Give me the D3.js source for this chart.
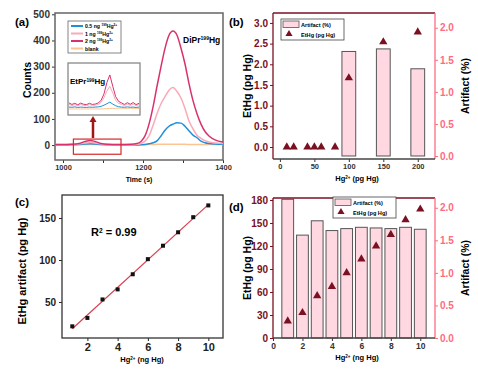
<!DOCTYPE html>
<html>
<head>
<meta charset="utf-8">
<script src="https://cdn.jsdelivr.net/npm/d3@7"></script>
<style>
body{margin:0;background:#fff}
svg{font-family:Arial,"Liberation Sans",sans-serif;font-weight:bold}
</style>
</head>
<body>
<svg width="478" height="371"></svg>
<script>
// (a) chromatograms
let aTime  = [980,1000,1020,1040,1055,1068,1080,1095,1110,1140,1170,1185,1195,1205,1215,1225,1235,1245,1255,1265,1275,1285,1295,1305,1315,1325,1335,1345,1355,1365,1380,1400]
let a2ng   = [2,2,3,6,14,18,14,6,3,2,3,6,14,35,80,145,225,300,370,420,436,420,370,310,235,170,120,80,52,35,20,12]
let a1ng   = [1,1,2,4,8,10,8,4,2,1,1,3,6,15,35,75,120,158,185,210,220,205,180,140,92,62,38,26,17,12,8,6]
let a05ng  = [0,0,1,2,4,5,4,2,1,0,0,0,1,2,5,9,16,35,57,72,80,85,84,72,55,38,28,15,9,6,4,3]
let aBlank = [2,2,2,2,2,2,3,2,2,2,2,2,2,2,2,2,3,3,3,3,3,3,3,3,2,2,2,2,2,2,2,2]

// inset (EtPr199Hg region)
let iTime  = [1000,1005,1010,1015,1020,1025,1030,1035,1040,1045,1050,1055,1060,1065,1070,1075,1080,1085,1090,1095,1100,1105,1110,1115,1120]
let i2ng   = [3.2,2.4,3.0,2.2,3.1,2.5,2.3,3.0,2.4,2.6,3.2,4.5,8,14,18,12,6.5,4,3.2,2.4,3.3,2.5,3.4,2.3,3.0]
let i1ng   = [2.4,1.8,2.3,1.7,2.4,1.9,1.8,2.3,1.9,2.0,2.4,3.5,6,9.5,12,8.5,4.5,3,2.4,1.8,2.5,1.9,2.6,1.8,2.3]
let i05ng  = [1.0,0.9,1.1,0.8,1.0,0.9,0.8,1.0,0.9,1.0,1.1,1.4,2.0,2.8,3.6,2.6,1.7,1.2,1.0,0.9,1.1,0.9,1.0,0.8,1.0]
let iBlank = [0,0,0,0,0,0,0,0,0,0,0,0,0.1,0.2,0.3,0.3,0.3,0.4,0.4,0.3,0.3,0.4,0.3,0.3,0.3]

// (b) low level Hg2+
let bHg       = [10,20,40,50,60,80,100,150,200]
let bEtHg     = [0,0,0,0,0,0,1.67,2.54,2.78]
let bArtifact = [0,0,0,0,0,0,1.63,1.67,1.36]

// (c) calibration
let cHg   = [1,2,3,4,5,6,7,8,9,10]
let cEtHg = [21,31,53,65,83,101,117,133,151,165]

// (d) high level Hg2+
let dHg       = [1,2,3,4,5,6,7,8,9,10]
let dEtHg     = [22,33,55,67,85,103,120,135,154,168]
let dArtifact = [2.13,1.58,1.80,1.65,1.68,1.70,1.69,1.68,1.70,1.67]

let svg = d3.select('svg')
let darkRed = '#7a1020'
let pinkAx = '#ff6b80'
let barFill = '#ffd8e1'

let rich = (g, x, y, parts, size, anchor, rot) => {
  let t = g.append('text').attr('font-size', size).attr('text-anchor', anchor || 'start')
  if (rot) t.attr('transform', 'translate(' + x + ',' + y + ') rotate(' + rot + ')')
  else t.attr('x', x).attr('y', y)
  parts.forEach(p => {
    let ts = t.append('tspan').text(p[0])
    if (p[1]) ts.attr('font-size', size * 0.6).attr('baseline-shift', 'super')
  })
  return t
}

let styleAxis = (g, color, size) => {
  g.select('.domain').remove()
  g.selectAll('line').attr('stroke', color).attr('stroke-width', 1)
  g.selectAll('text').attr('fill', color).attr('font-size', size).attr('font-weight', 'bold')
}

// ---------- (a)
let ax = d3.scaleLinear().domain([980, 1400]).range([55, 223])
let ay = d3.scaleLinear().domain([-57, 505]).range([160, 13])
let ga = svg.append('g')

let gax = ga.append('g').attr('transform', 'translate(0,160)')
  .call(d3.axisBottom(ax).tickValues([1000, 1100, 1200, 1300, 1400]).tickSize(3).tickPadding(2)
    .tickFormat(d => d % 200 == 0 ? d : ''))
styleAxis(gax, '#333', 7.5)
let gay = ga.append('g').attr('transform', 'translate(55,0)')
  .call(d3.axisLeft(ay).tickValues([0, 100, 200, 300, 400, 500]).tickSize(3).tickPadding(2))
styleAxis(gay, '#333', 10)
ga.append('rect').attr('x', 55).attr('y', 13).attr('width', 168).attr('height', 147)
  .attr('fill', 'none').attr('stroke', '#666').attr('stroke-width', 1.5)

let aSeries = [
  {v: aBlank, c: '#fcc58f'},
  {v: a05ng, c: '#1f8fdc'},
  {v: a1ng, c: '#f9aab8'},
  {v: a2ng, c: '#d8326e'}
]
let aLine = d3.line().x((d, i) => ax(aTime[i])).y(d => ay(d)).curve(d3.curveMonotoneX)
aSeries.forEach(s => {
  ga.append('path').attr('d', aLine(s.v)).attr('fill', 'none').attr('stroke', s.c).attr('stroke-width', 1.5)
})

rich(ga, 183, 43, [['DiPr'], ['199', 1], ['Hg']], 8.5)

// red box + arrow
ga.append('rect').attr('x', ax(1026)).attr('y', ay(23)).attr('width', ax(1145) - ax(1026)).attr('height', ay(-35) - ay(23))
  .attr('fill', 'none').attr('stroke', '#d42a2a').attr('stroke-width', 1.2)
let arX = ax(1075)
ga.append('line').attr('x1', arX).attr('x2', arX).attr('y1', 138).attr('y2', 121)
  .attr('stroke', '#a01515').attr('stroke-width', 2.5)
ga.append('path').attr('d', 'M' + (arX - 3.5) + ',122L' + arX + ',116L' + (arX + 3.5) + ',122Z').attr('fill', '#a01515')

// inset
let ix = d3.scaleLinear().domain([1000, 1120]).range([69, 139])
let iy = d3.scaleLinear().domain([-1.6, 20.6]).range([112, 70])
ga.append('rect').attr('x', 68).attr('y', 63).attr('width', 72).attr('height', 52)
  .attr('fill', '#fff').attr('stroke', '#888').attr('stroke-width', 1.3)
let iLine = d3.line().x((d, i) => ix(iTime[i])).y(d => iy(d))
;[{v: iBlank, c: '#fcc58f'}, {v: i05ng, c: '#1f8fdc'}, {v: i1ng, c: '#f9aab8'}, {v: i2ng, c: '#d8326e'}].forEach(s => {
  ga.append('path').attr('d', iLine(s.v)).attr('fill', 'none').attr('stroke', s.c).attr('stroke-width', 1)
})
rich(ga, 70, 84, [['EtPr'], ['199', 1], ['Hg']], 8)

// legend (a)
let legA = [
  {c: '#1f8fdc', p: [['0.5 ng '], ['199', 1], ['Hg'], ['2+', 1]]},
  {c: '#f9aab8', p: [['1 ng '], ['199', 1], ['Hg'], ['2+', 1]]},
  {c: '#d8326e', p: [['2 ng '], ['199', 1], ['Hg'], ['2+', 1]]},
  {c: '#fcc58f', p: [['blank']]}
]
ga.append('rect').attr('x', 68).attr('y', 21).attr('width', 53).attr('height', 32)
  .attr('fill', '#fff').attr('stroke', '#666').attr('stroke-width', 0.8)
legA.forEach((e, i) => {
  let yy = 26 + i * 7.5
  ga.append('line').attr('x1', 71).attr('x2', 83).attr('y1', yy).attr('y2', yy).attr('stroke', e.c).attr('stroke-width', 2)
  rich(ga, 85, yy + 2, e.p, 5.2)
})

ga.append('text').attr('x', 15).attr('y', 26).attr('font-size', 11.5).text('(a)')
ga.append('text').attr('transform', 'translate(31,80) rotate(-90)').attr('text-anchor', 'middle').attr('font-size', 10.5).text('Counts')
ga.append('text').attr('x', 139).attr('y', 182).attr('text-anchor', 'middle').attr('font-size', 7).text('Time (s)')

// ---------- dual axis bar + triangle panels
let dualPanel = (o) => {
  let g = svg.append('g')
  let x = d3.scaleLinear().domain(o.xd).range([273, 435])
  let yL = d3.scaleLinear().domain(o.yLd).range([o.bottom, o.top])
  let yR = d3.scaleLinear().domain(o.yRd).range([o.bottom, o.top])

  let gx = g.append('g').attr('transform', 'translate(0,' + o.bottom + ')')
    .call(d3.axisBottom(x).tickValues(o.xt).tickSize(3).tickPadding(2))
  styleAxis(gx, '#333', o.xs)
  let gl = g.append('g').attr('transform', 'translate(273,0)')
    .call(d3.axisLeft(yL).tickValues(o.yLt).tickSize(3).tickPadding(2).tickFormat(o.yLf))
  styleAxis(gl, darkRed, 10)
  let gr = g.append('g').attr('transform', 'translate(435,0)')
    .call(d3.axisRight(yR).tickValues(o.yRt).tickSize(3).tickPadding(2).tickFormat(d3.format('.1f')))
  styleAxis(gr, pinkAx, 10)

  let bars = o.xv.map((v, i) => ({x: v, a: o.art[i]})).filter(d => d.a > 0)
  g.selectAll('.bar').data(bars).enter().append('rect').attr('class', 'bar')
    .attr('x', d => x(d.x - o.bw / 2)).attr('width', d => x(d.x + o.bw / 2) - x(d.x - o.bw / 2))
    .attr('y', d => yR(d.a)).attr('height', d => yR(0) - yR(d.a))
    .attr('fill', barFill).attr('stroke', '#555').attr('stroke-width', 1)

  g.selectAll('.tri').data(o.xv).enter().append('path').attr('class', 'tri')
    .attr('d', d3.symbol(d3.symbolTriangle, 30))
    .attr('transform', (d, i) => 'translate(' + x(d) + ',' + yL(o.et[i]) + ')')
    .attr('fill', darkRed)

  // frame
  g.append('line').attr('x1', 273).attr('x2', 435).attr('y1', o.top).attr('y2', o.top).attr('stroke', darkRed).attr('stroke-width', 1.3)
  g.append('line').attr('x1', 273).attr('x2', 273).attr('y1', o.top).attr('y2', o.bottom).attr('stroke', darkRed).attr('stroke-width', 1.3)
  g.append('line').attr('x1', 435).attr('x2', 435).attr('y1', o.top).attr('y2', o.bottom).attr('stroke', pinkAx).attr('stroke-width', 1.3)
  g.append('line').attr('x1', 273).attr('x2', 435).attr('y1', o.bottom).attr('y2', o.bottom).attr('stroke', '#444').attr('stroke-width', 1.3)

  // legend
  let lx = o.leg[0], ly = o.leg[1]
  g.append('rect').attr('x', lx).attr('y', ly).attr('width', 63).attr('height', 21)
    .attr('fill', '#fff').attr('stroke', '#444').attr('stroke-width', 0.8)
  g.append('rect').attr('x', lx + 2).attr('y', ly + 2).attr('width', 16).attr('height', 6.5)
    .attr('fill', barFill).attr('stroke', '#555').attr('stroke-width', 0.8)
  g.append('text').attr('x', lx + 20).attr('y', ly + 7.5).attr('font-size', 5.6).text('Artifact (%)')
  g.append('path').attr('d', d3.symbol(d3.symbolTriangle, 22)).attr('transform', 'translate(' + (lx + 8) + ',' + (ly + 15) + ')').attr('fill', darkRed)
  g.append('text').attr('x', lx + 20).attr('y', ly + 17.5).attr('font-size', 5.6).text('EtHg (pg Hg)')

  let mid = (o.top + o.bottom) / 2
  g.append('text').attr('transform', 'translate(251,' + mid + ') rotate(-90)').attr('text-anchor', 'middle').attr('font-size', 10.5).text('EtHg (pg Hg)')
  g.append('text').attr('transform', 'translate(469,' + mid + ') rotate(-90)').attr('text-anchor', 'middle').attr('font-size', 10.5).text('Artifact (%)')
  rich(g, 357, o.bottom + 22, [['Hg'], ['2+', 1], [o.xunit]], 7.5, 'middle')
  g.append('text').attr('x', 229).attr('y', o.top + 13).attr('font-size', 11.5).text(o.label)
}

dualPanel({
  xd: [-10, 225], yLd: [-0.29, 3.24], yRd: [-0.047, 2.23], top: 13, bottom: 159,
  xt: [0, 50, 100, 150, 200], xs: 7.5,
  yLt: [0, 0.5, 1, 1.5, 2, 2.5, 3], yLf: d3.format('.1f'), yRt: [0, 0.5, 1, 1.5, 2],
  xv: bHg, et: bEtHg, art: bArtifact, bw: 20, leg: [281, 19], xunit: ' (pg Hg)', label: '(b)'
})

dualPanel({
  xd: [0, 11], yLd: [0, 182.6], yRd: [0, 2.15], top: 198, bottom: 338,
  xt: [0, 2, 4, 6, 8, 10], xs: 8.5,
  yLt: [0, 30, 60, 90, 120, 150, 180], yLf: d3.format('d'), yRt: [0, 0.5, 1, 1.5, 2],
  xv: dHg, et: dEtHg, art: dArtifact, bw: 0.8, leg: [333, 197], xunit: ' (ng Hg)', label: '(d)'
})

// ---------- (c)
let cx = d3.scaleLinear().domain([0.32, 10.97]).range([62, 223])
let cy = d3.scaleLinear().domain([7.1, 177.4]).range([338, 195])
let gc = svg.append('g')
let gcx = gc.append('g').attr('transform', 'translate(0,338)')
  .call(d3.axisBottom(cx).tickValues([2, 4, 6, 8, 10]).tickSize(3).tickPadding(2))
styleAxis(gcx, '#222', 11)
let gcy = gc.append('g').attr('transform', 'translate(62,0)')
  .call(d3.axisLeft(cy).tickValues([50, 100, 150]).tickSize(3).tickPadding(3))
styleAxis(gcy, '#222', 10)
gc.append('rect').attr('x', 62).attr('y', 195).attr('width', 161).attr('height', 143)
  .attr('fill', 'none').attr('stroke', '#333').attr('stroke-width', 1.3)

// least squares line through the points
let mx = d3.mean(cHg), my = d3.mean(cEtHg)
let slope = d3.sum(cHg, (v, i) => (v - mx) * (cEtHg[i] - my)) / d3.sum(cHg, v => (v - mx) * (v - mx))
let icpt = my - slope * mx
gc.append('line').attr('x1', cx(1)).attr('x2', cx(10)).attr('y1', cy(icpt + slope)).attr('y2', cy(icpt + slope * 10))
  .attr('stroke', '#d6404f').attr('stroke-width', 1.2)
gc.selectAll('.pt').data(cHg).enter().append('rect').attr('class', 'pt')
  .attr('x', d => cx(d) - 2).attr('y', (d, i) => cy(cEtHg[i]) - 2).attr('width', 4).attr('height', 4).attr('fill', '#111')

rich(gc, 91, 236, [['R'], ['2', 1], [' = 0.99']], 11)
gc.append('text').attr('x', 15).attr('y', 206).attr('font-size', 11.5).text('(c)')
gc.append('text').attr('transform', 'translate(26,271) rotate(-90)').attr('text-anchor', 'middle').attr('font-size', 11).text('EtHg artifact (pg Hg)')
rich(gc, 142, 362, [['Hg'], ['2+', 1], [' (ng Hg)']], 7.5, 'middle')
</script>
</body>
</html>
